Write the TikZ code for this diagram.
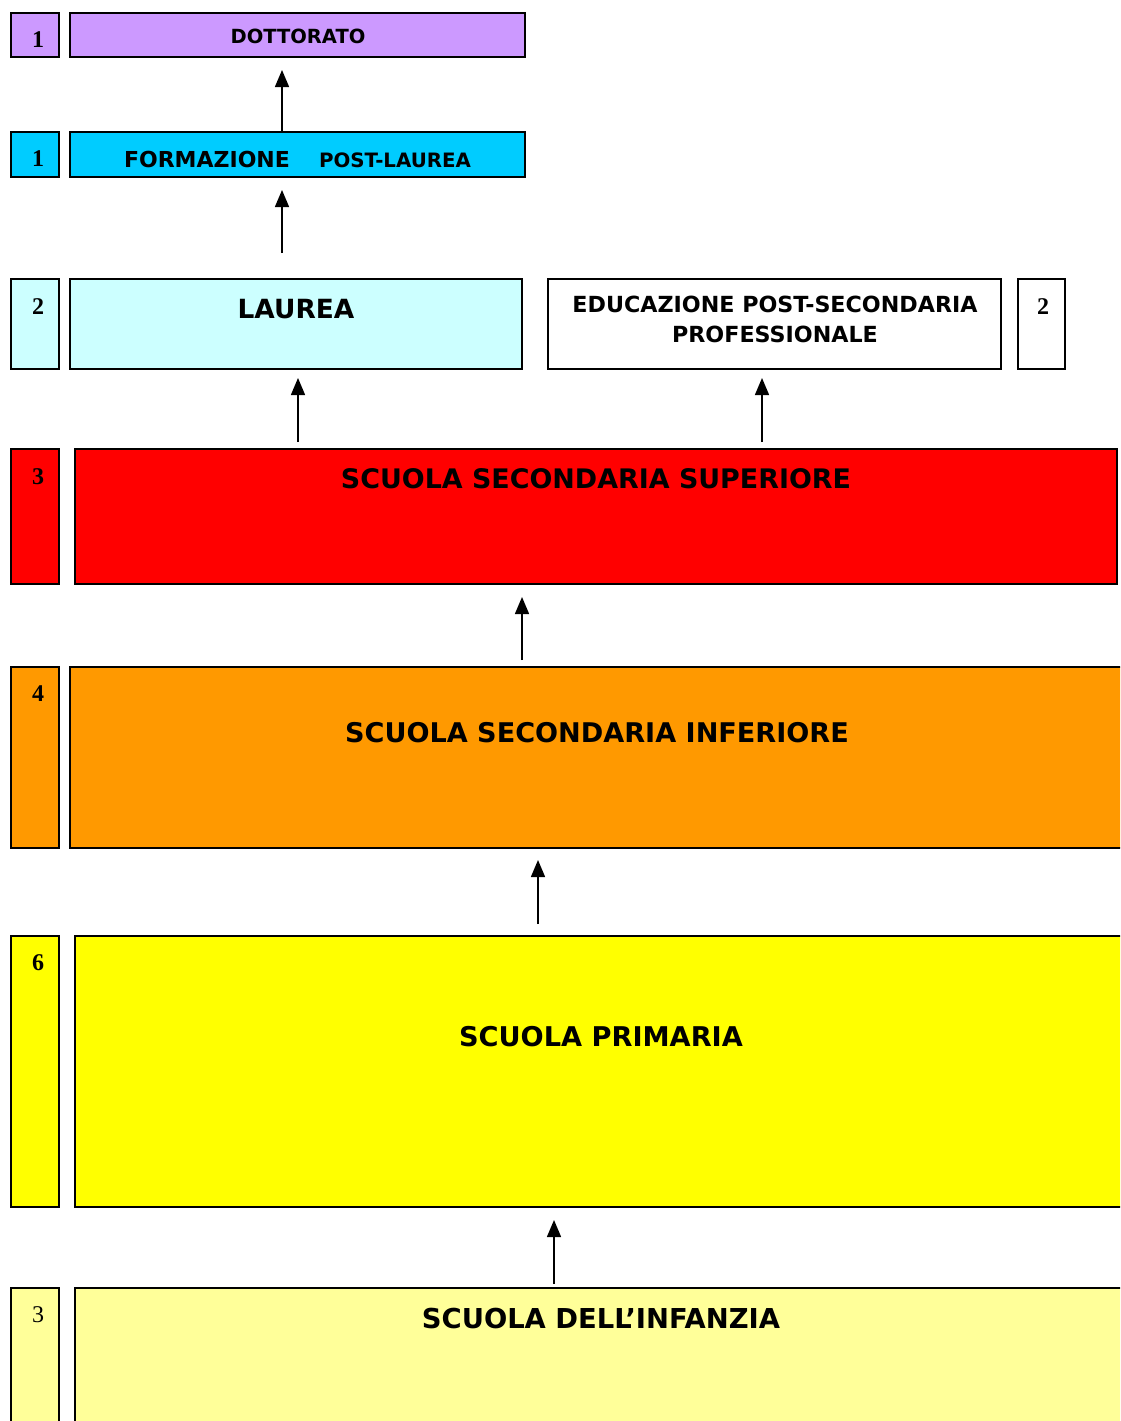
\documentclass[tikz,border=0pt]{standalone}
\usepackage{fontspec}
\setmainfont{Liberation Serif}
\newfontfamily\vf{DejaVu Sans}
\usetikzlibrary{arrows.meta}
\definecolor{cviola}{HTML}{CC99FF}
\definecolor{ccyan}{HTML}{00CCFF}
\definecolor{cazz}{HTML}{CCFFFF}
\definecolor{crosso}{HTML}{FF0000}
\definecolor{carancio}{HTML}{FF9900}
\definecolor{cgiallo}{HTML}{FFFF00}
\definecolor{cgiallino}{HTML}{FFFF99}
\begin{document}
\begin{tikzpicture}[x=1pt,y=-1pt,
  box/.style={draw=black,line width=1.8pt},
  lbl/.style={font=\vf\bfseries,inner sep=0pt,anchor=center},
  num/.style={font=\bfseries\fontsize{24}{26}\selectfont,inner sep=0pt,anchor=center},
  up/.style={-{Triangle[length=17pt,width=14pt]},line width=1.5pt}]
\useasboundingbox (0,0) rectangle (1120,1421);
\begin{scope}
\clip (0,0) rectangle (1120,1421);
% DOTTORATO
\draw[box,fill=cviola] (11,13) rectangle (59,57);
\draw[box,fill=cviola] (70,13) rectangle (525,57);
\node[num] (n1) at (38,40) {1};
\node[lbl,font=\vf\bfseries\fontsize{19.5}{22}\selectfont] (dott) at (298,36) {DOTTORATO};
% FORMAZIONE
\draw[box,fill=ccyan] (11,132) rectangle (59,177);
\draw[box,fill=ccyan] (70,132) rectangle (525,177);
\node[num] (n2) at (38,159) {1};
\node[lbl,font=\vf\bfseries\fontsize{22}{24}\selectfont] (form) at (207,159) {FORMAZIONE};
\node[lbl,font=\vf\bfseries\fontsize{19.8}{22}\selectfont] (post) at (395,160) {POST-LAUREA};
% LAUREA
\draw[box,fill=cazz] (11,279) rectangle (59,369);
\draw[box,fill=cazz] (70,279) rectangle (522,369);
\node[num] (n3) at (38,307) {2};
\node[lbl,font=\vf\bfseries\fontsize{26.4}{30}\selectfont] (laurea) at (296,309) {LAUREA};
% EDUCAZIONE
\draw[box,fill=white] (548,279) rectangle (1001,369);
\draw[box,fill=white] (1018,279) rectangle (1065,369);
\node[num] (n4) at (1043,307) {2};
\node[lbl,font=\vf\bfseries\fontsize{22.2}{30}\selectfont,align=center] (edu) at (775,319) {EDUCAZIONE POST-SECONDARIA\\PROFESSIONALE};
% SUPERIORE
\draw[box,fill=crosso] (11,449) rectangle (59,584);
\draw[box,fill=crosso] (75,449) rectangle (1117,584);
\node[num] (n5) at (38,477) {3};
\node[lbl,font=\vf\bfseries\fontsize{26.9}{30}\selectfont] (sup) at (596,479) {SCUOLA SECONDARIA SUPERIORE};
% INFERIORE
\draw[box,fill=carancio] (11,667) rectangle (59,848);
\draw[box,fill=carancio] (70,667) rectangle (1130,848);
\node[num] (n6) at (38,694) {4};
\node[lbl,font=\vf\bfseries\fontsize{27.1}{30}\selectfont] (inf) at (597,733) {SCUOLA SECONDARIA INFERIORE};
% PRIMARIA
\draw[box,fill=cgiallo] (11,936) rectangle (59,1207);
\draw[box,fill=cgiallo] (75,936) rectangle (1130,1207);
\node[num] (n7) at (38,963) {6};
\node[lbl,font=\vf\bfseries\fontsize{27.2}{30}\selectfont] (prim) at (601,1037) {SCUOLA PRIMARIA};
% INFANZIA
\draw[box,fill=cgiallino] (11,1288) rectangle (59,1440);
\draw[box,fill=cgiallino] (75,1288) rectangle (1130,1440);
\node[num,font=\fontsize{24}{26}\selectfont] (n8) at (38,1315) {3};
\node[lbl,font=\vf\bfseries\fontsize{27.4}{30}\selectfont] (infz) at (601,1319) {SCUOLA DELL’INFANZIA};
\end{scope}
% arrows
\coordinate (a1s) at (282,131); \coordinate (a1e) at (282,70);
\coordinate (a2s) at (282,253); \coordinate (a2e) at (282,190);
\coordinate (a3s) at (298,442); \coordinate (a3e) at (298,378);
\coordinate (a4s) at (762,442); \coordinate (a4e) at (762,378);
\coordinate (a5s) at (522,660); \coordinate (a5e) at (522,597);
\coordinate (a6s) at (538,924); \coordinate (a6e) at (538,860);
\coordinate (a7s) at (554,1284); \coordinate (a7e) at (554,1220);
\foreach \i in {1,...,7} {\draw[up] (a\i s) -- (a\i e);}
\end{tikzpicture}
\end{document}
